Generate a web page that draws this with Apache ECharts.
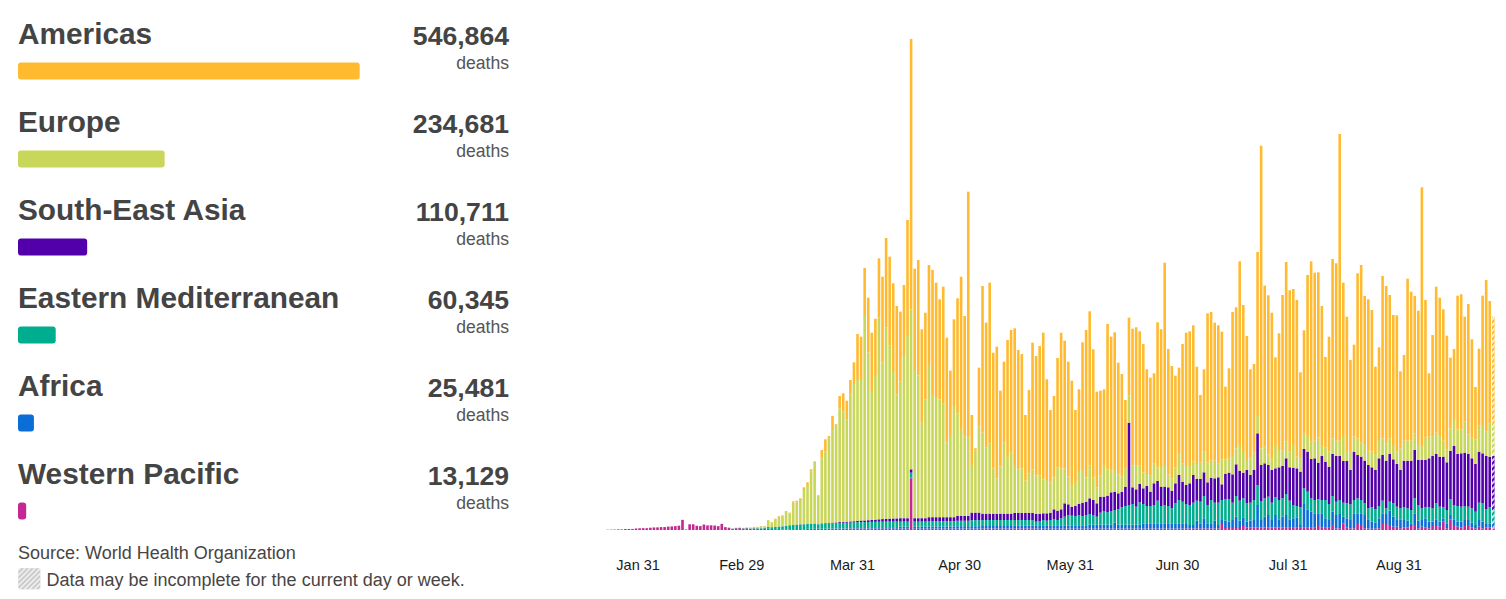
<!DOCTYPE html>
<html>
<head>
<meta charset="utf-8">
<script src="https://cdn.jsdelivr.net/npm/echarts/dist/echarts.min.js"></script>
<style>
html,body{margin:0;padding:0;background:#ffffff;}
#chart{width:1506px;height:599px;}
</style>
</head>
<body>
<div id="chart"></div>
<script>
// ---------- DATA ----------
const regions = ['Americas','Europe','South-East Asia','Eastern Mediterranean','Africa','Western Pacific'];
const regionTotals = [546864,234681,110711,60345,25481,13129];
const firstDay = '2020-01-22';
const dayCount = 249;
const tickLabels = ['Jan 31','Feb 29','Mar 31','Apr 30','May 31','Jun 30','Jul 31','Aug 31'];
const sourceText = 'Source: World Health Organization';
const noteText = 'Data may be incomplete for the current day or week.';

const westernPacific = [
6,8,10,16,15,24,26,26,38,43,
46,45,57,64,65,73,73,86,89,97,
108,254,13,143,142,105,98,136,114,118,
109,97,150,71,52,29,44,47,35,42,
31,38,31,
30,28,28,27,22,24,15,18,20,20,
22,22,20,25,25,26,28,28,28,30,
30,30,32,32,32,33,33,35,35,35,
35,35,35,35,35,35,35,35,35,
35,35,35,1292,35,35,35,35,35,35,
35,35,35,35,35,35,35,35,35,35,
35,35,35,38,38,38,38,38,38,38,
38,38,40,40,40,40,40,40,
35,35,35,35,35,35,35,35,35,35,
35,35,35,35,35,35,35,35,35,35,
35,35,35,35,35,35,35,35,35,35,
35,35,35,35,35,35,35,35,35,35,
35,35,
40,40,40,40,40,40,40,40,40,40,
150,50,50,50,50,50,100,60,60,60,
60,60,60,60,60,60,60,60,70,70,
70,70,70,70,70,70,70,100,70,70,
70,125,
42,42,167,67,42,42,150,125,42,42,
30,42,42,150,150,125,83,83,42,67,
67,100,125,42,83,67,42,100,100,83,
208,42,267,100,83,67,100,125,67,42,
83,42,67,67,67
];

const africa = [
0,0,0,0,0,0,0,0,0,0,
0,0,0,0,0,0,0,0,0,0,
0,0,0,0,0,0,0,0,0,0,
0,0,0,0,0,0,0,0,0,0,
0,0,0,
0,0,0,0,0,0,1,1,1,1,
2,2,3,3,4,4,3,5,6,7,
8,8,10,10,10,11,11,12,12,12,
13,13,14,14,15,15,15,15,15,
50,50,50,15,50,50,50,50,55,55,
55,55,55,55,55,55,60,60,60,60,
60,60,60,62,62,62,62,62,62,62,
62,62,65,65,65,65,65,65,
82,82,82,82,82,82,82,82,82,82,
82,82,82,82,82,98,98,98,98,98,
98,98,148,98,98,98,98,98,98,98,
132,132,132,132,132,132,132,132,132,132,
132,132,
110,85,85,193,127,252,127,127,193,85,
100,183,158,200,283,183,217,148,173,190,
565,190,273,315,190,315,207,273,305,197,
222,247,55,580,447,388,347,317,347,222,
180,333,
333,358,166,225,208,375,267,292,333,225,
178,141,250,267,250,358,250,167,225,183,
166,67,292,191,167,225,166,108,167,125,
84,125,108,167,125,141,150,125,116,83,
167,166,83,100,141
];

const easternMediterranean = [
0,0,0,0,0,0,0,0,0,0,
0,0,0,0,0,0,0,0,0,0,
0,0,0,0,0,0,0,0,2,2,
4,2,4,4,7,7,8,8,11,12,
11,11,15,
16,21,49,43,54,63,75,85,97,105,
110,115,118,120,122,125,110,125,128,130,
132,135,138,140,140,142,145,148,150,150,
152,155,155,158,158,160,160,160,160,
125,125,125,126,125,125,125,125,130,130,
130,130,130,130,130,130,135,135,135,135,
150,150,150,150,150,150,150,150,150,150,
150,150,145,145,145,145,145,145,
91,108,133,116,133,158,133,175,216,258,
241,233,258,233,258,267,242,200,300,342,
309,342,317,384,434,467,484,517,450,559,
483,433,433,458,566,433,458,433,375,500,
583,541,
500,500,558,500,541,558,458,583,450,558,
500,534,559,433,517,500,475,459,450,500,
500,475,459,458,433,442,483,459,525,466,
333,283,442,392,441,334,333,350,333,458,
400,392,
333,350,350,375,392,333,375,333,292,275,
359,334,308,316,142,225,334,333,275,317,
309,333,375,392,292,275,359,334,400,375,
275,333,392,358,392,375,350,333,359,333,
433,459,367,400,292
];

const southEastAsia = [
0,0,0,0,0,0,0,0,0,0,
0,0,0,0,0,0,0,0,0,0,
0,0,0,0,0,0,0,0,0,0,
0,0,0,0,0,0,0,0,0,0,
0,0,0,
0,1,1,1,1,2,2,2,2,3,
3,4,4,5,5,6,5,8,10,12,
14,15,20,22,25,28,30,35,40,42,
45,50,55,60,65,70,75,78,80,
85,85,85,84,85,85,85,85,100,100,
100,100,100,100,100,100,125,125,125,125,
190,190,190,158,158,158,158,158,158,158,
158,158,180,180,180,180,180,180,
192,175,167,184,183,242,233,225,334,267,
225,250,275,333,333,392,375,334,400,358,
416,467,458,400,383,483,2066,417,434,458,
392,500,358,542,492,483,458,467,441,500,
625,500,
475,542,692,542,567,592,567,558,609,634,
392,633,666,709,792,750,641,833,692,750,
1292,900,875,792,817,725,817,808,892,834,
933,942,891,983,1000,983,1042,916,1100,958,
933,1050,
1142,1100,1042,1058,858,1208,1083,1083,1066,1083,
1000,983,1192,1142,1191,1192,1100,1067,958,1166,
1191,1233,1208,1125,1208,1183,1225,1308,1233,1250,
1266,1192,1208,1475,1300,1334,1333,1317,1250,1192,
1275,1250,1333,1266,1350
];

const europe = [
0,0,0,0,0,0,0,0,0,0,
0,0,0,0,0,0,0,0,0,0,
0,0,0,0,0,0,0,0,0,0,
0,1,2,3,4,2,5,6,8,8,
20,28,30,
50,44,164,119,194,248,252,347,287,554,
554,607,855,972,1302,1546,720,1626,1786,2146,
2316,2447,2842,2754,2560,3178,3431,3520,3513,5136,
4188,3222,3616,5050,3910,4787,4332,3662,3102,
3413,4080,4580,4000,3705,3572,2388,2972,3805,3055,
2972,2947,2847,1872,2055,2780,2562,2170,1978,1962,
1190,1548,2148,2025,1659,1759,1134,884,1175,1784,
1409,1534,1195,1087,1112,803,987,1087,
958,958,850,833,750,800,1084,1016,866,691,
525,600,825,817,609,825,567,400,525,792,
659,541,542,475,383,450,675,550,600,467,
391,300,400,500,342,517,517,325,309,400,
517,459,
475,433,333,375,408,516,491,425,441,350,
625,367,359,458,400,642,542,250,417,433,
433,417,416,267,267,583,433,383,416,391,
567,291,334,392,392,433,441,634,275,359,
375,392,
383,383,650,250,475,375,408,350,417,333,
391,400,458,417,434,392,358,308,542,500,
500,500,417,400,333,558,541,500,533,542,
400,325,567,650,617,600,775,492,525,617,
650,708,608,834,817
];

const americas = [
0,0,0,0,0,0,0,0,0,0,
0,0,0,0,0,0,0,0,0,0,
0,0,0,0,0,0,0,0,0,0,
0,0,0,0,0,0,0,0,1,1,
4,3,2,
4,6,8,10,12,13,22,22,26,34,
42,42,67,67,59,10,9,208,309,25,
350,15,308,459,466,358,542,1150,1083,1175,
1375,1458,1408,1475,2150,2233,2216,2217,2208,
1750,1750,2875,6758,2533,2883,2334,2166,2500,3125,
2891,2500,2916,2616,1608,2167,2875,3808,3017,6141,
1250,59,1475,3667,3116,4016,2891,3291,1900,2016,
2933,3058,3417,2983,2858,1642,2083,3166,
2992,3242,3666,2517,1817,2033,2733,3400,3200,2875,
2625,1800,2042,3192,3683,3850,3200,2391,2125,1892,
3633,3350,3442,2791,2567,1717,1950,3416,3450,3350,
3217,2617,2450,2250,3625,3417,5083,3133,2808,2291,
2166,2983,
3333,3367,3409,2433,1692,2059,3734,3717,3450,3450,
3191,1816,2250,3600,3525,4592,3650,3100,2225,2217,
4100,7566,4025,3975,3666,2192,2917,3892,4492,4034,
3900,3917,2150,2575,4025,4509,4200,4125,3475,2258,
2875,4483,
4434,7667,3808,3358,2275,2300,4134,4442,3700,3809,
3542,2183,2317,4058,3933,3583,3250,3409,1925,2142,
4050,3725,3433,3333,6484,3442,1584,2525,3650,3433,
3284,2841,1766,1775,3341,3375,2625,3258,2450,1308,
1925,3233,3792,3058,2666
];

// ---------- STYLE ----------
const regionColors = ['#FFBA30','#C8D65A','#5200AA','#00AD8E','#0A6ED6','#C42895'];
const FONT = '"Liberation Sans", Arial, Helvetica, sans-serif';

// categories (consecutive days)
const monthNames = ['Jan','Feb','Mar','Apr','May','Jun','Jul','Aug','Sep','Oct','Nov','Dec'];
const categories = [];
{
  const d0 = new Date(firstDay + 'T00:00:00Z');
  for (let i = 0; i < dayCount; i++) {
    const d = new Date(d0.getTime() + i * 86400000);
    categories.push(monthNames[d.getUTCMonth()] + ' ' + d.getUTCDate());
  }
}

const hatch = {
  symbol: 'rect', symbolSize: 1,
  dashArrayX: [1, 0], dashArrayY: [2, 2],
  rotation: -Math.PI / 4,
  color: 'rgba(255,255,255,0.8)'
};

const stackDefs = [
  {name: 'Western Pacific', data: westernPacific, color: regionColors[5]},
  {name: 'Africa', data: africa, color: regionColors[4]},
  {name: 'Eastern Mediterranean', data: easternMediterranean, color: regionColors[3]},
  {name: 'South-East Asia', data: southEastAsia, color: regionColors[2]},
  {name: 'Europe', data: europe, color: regionColors[1]},
  {name: 'Americas', data: americas, color: regionColors[0]}
];

const series = stackDefs.map(s => ({
  type: 'bar', name: s.name, stack: 'deaths',
  xAxisIndex: 0, yAxisIndex: 0,
  barCategoryGap: '27%',
  itemStyle: {color: s.color},
  silent: true,
  data: s.data.map((v, i) => i === s.data.length - 1 ? {value: v, itemStyle: {decal: hatch}} : v)
}));

series.push({
  type: 'bar', name: 'totals', xAxisIndex: 1, yAxisIndex: 1,
  barWidth: 17, silent: true,
  data: regionTotals.map((v, i) => ({value: v, itemStyle: {color: regionColors[i], borderRadius: 3}}))
});

// ---------- TEXT (graphic) ----------
const graphics = [];
regions.forEach((name, i) => {
  const dy = 88 * i;
  graphics.push({type: 'text', x: 18, y: 33 + dy, silent: true,
    style: {text: name, fill: '#444444', font: 'bold 29.8px ' + FONT,
      align: 'left', verticalAlign: 'middle', textAlign: 'left', textVerticalAlign: 'middle'}});
  graphics.push({type: 'text', x: 509, y: 36 + dy, silent: true,
    style: {text: regionTotals[i].toLocaleString('en-US'), fill: '#444444', font: 'bold 26.6px ' + FONT,
      align: 'right', verticalAlign: 'middle', textAlign: 'right', textVerticalAlign: 'middle'}});
  graphics.push({type: 'text', x: 509, y: 62.5 + dy, silent: true,
    style: {text: 'deaths', fill: '#555555', font: '17.6px ' + FONT,
      align: 'right', verticalAlign: 'middle', textAlign: 'right', textVerticalAlign: 'middle'}});
});
graphics.push({type: 'text', x: 18, y: 553, silent: true,
  style: {text: sourceText, fill: '#4a4444', font: '18px ' + FONT,
    align: 'left', verticalAlign: 'middle', textAlign: 'left', textVerticalAlign: 'middle'}});
graphics.push({type: 'text', x: 46.5, y: 580, silent: true,
  style: {text: noteText, fill: '#4a4444', font: '18px ' + FONT,
    align: 'left', verticalAlign: 'middle', textAlign: 'left', textVerticalAlign: 'middle'}});
// hatched icon
{
  const x0 = 18.3, y0 = 568.3, w = 22, h = 21;
  graphics.push({type: 'rect', silent: true, shape: {x: x0, y: y0, width: w, height: h, r: 2},
    style: {fill: '#c9c9c9'}});
  for (let k = x0 + y0 + 2; k < x0 + w + y0 + h; k += 5) {
    const xa = Math.max(x0, k - (y0 + h)), xb = Math.min(x0 + w, k - y0);
    if (xb <= xa) continue;
    graphics.push({type: 'line', silent: true,
      shape: {x1: xa, y1: k - xa, x2: xb, y2: k - xb},
      style: {stroke: '#eeeeee', lineWidth: 1.8}});
  }
}

// ---------- CHART ----------
const chart = echarts.init(document.getElementById('chart'), null, {renderer: 'svg'});
chart.setOption({
  animation: false,
  backgroundColor: '#ffffff',
  grid: [
    {left: 605.7, top: 30, width: 889.4, height: 500, outerBoundsMode: 'none', containLabel: false},
    {left: 18, top: 27.1, width: 341.7, height: 528, outerBoundsMode: 'none', containLabel: false}
  ],
  xAxis: [
    {type: 'category', gridIndex: 0, data: categories, boundaryGap: true,
      axisLine: {show: false}, axisTick: {show: false}, splitLine: {show: false},
      axisLabel: {interval: (idx, val) => tickLabels.indexOf(val) >= 0,
        fontSize: 14.5, fontFamily: FONT, color: '#1a1a1a', margin: 27, padding: [0, 3, 0, 0]}},
    {type: 'value', gridIndex: 1, min: 0, max: regionTotals[0], show: false}
  ],
  yAxis: [
    {type: 'value', gridIndex: 0, min: 0, max: 12500, show: false},
    {type: 'category', gridIndex: 1, data: regions, inverse: true, show: false}
  ],
  tooltip: {show: false},
  series: series,
  graphic: graphics
});
</script>
</body>
</html>
